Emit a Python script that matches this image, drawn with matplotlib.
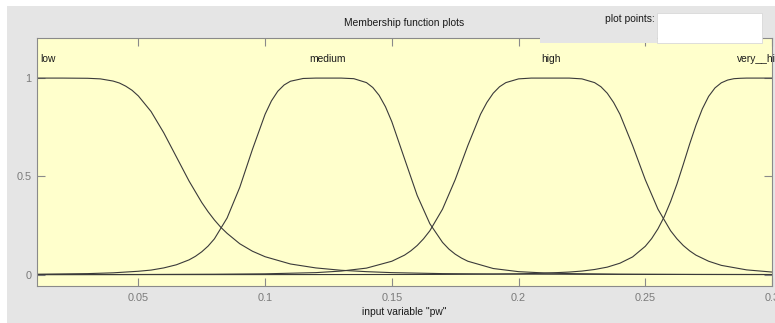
import matplotlib
matplotlib.use("Agg")
import matplotlib.pyplot as plt
from matplotlib.patches import Rectangle

plt.rcParams['font.family'] = ['Liberation Sans', 'DejaVu Sans']

# membership curves (input variable "pw")
low_x = [0.01, 0.02, 0.03, 0.035, 0.04, 0.0425, 0.045, 0.0475, 0.05, 0.055, 0.06, 0.065, 0.07, 0.075,
         0.0775, 0.08, 0.0825, 0.085, 0.09, 0.095, 0.10, 0.11, 0.12, 0.13, 0.14, 0.15, 0.17, 0.19,
         0.21, 0.23, 0.25, 0.27, 0.30]
low_y = [1.0, 1.0, 0.999, 0.996, 0.985, 0.975, 0.959, 0.938, 0.909, 0.830, 0.722, 0.599, 0.476, 0.367,
         0.320, 0.278, 0.241, 0.210, 0.157, 0.119, 0.091, 0.054, 0.034, 0.022, 0.015, 0.010, 0.005, 0.003,
         0.002, 0.0015, 0.001, 0.0008, 0.0005]

med_x = [0.01, 0.03, 0.04, 0.05, 0.055, 0.06, 0.065, 0.07, 0.0725, 0.075, 0.0775, 0.08, 0.085, 0.09,
         0.095, 0.10, 0.1025, 0.105, 0.1075, 0.11, 0.115, 0.12, 0.125, 0.13, 0.135, 0.14, 0.1425, 0.145,
         0.1475, 0.15, 0.155, 0.16, 0.165, 0.17, 0.1725, 0.175, 0.1775, 0.18, 0.19, 0.20, 0.21, 0.22,
         0.24, 0.27, 0.30]
med_y = [0.002, 0.005, 0.009, 0.017, 0.023, 0.034, 0.050, 0.075, 0.093, 0.116, 0.145, 0.182, 0.288, 0.444,
         0.637, 0.816, 0.884, 0.933, 0.965, 0.984, 0.998, 1.0, 1.0, 1.0, 0.997, 0.977, 0.952, 0.912,
         0.854, 0.778, 0.590, 0.403, 0.259, 0.164, 0.130, 0.104, 0.084, 0.068, 0.031, 0.015, 0.0085, 0.005,
         0.002, 0.0006, 0.0003]

high_x = [0.01, 0.05, 0.08, 0.10, 0.12, 0.13, 0.14, 0.15, 0.155, 0.1575, 0.16, 0.1625, 0.165, 0.17,
          0.175, 0.18, 0.185, 0.1875, 0.19, 0.1925, 0.195, 0.20, 0.205, 0.21, 0.215, 0.22, 0.225, 0.23,
          0.2325, 0.235, 0.2375, 0.24, 0.245, 0.25, 0.255, 0.26, 0.2625, 0.265, 0.2675, 0.27, 0.275, 0.28,
          0.29, 0.30]
high_y = [0.0002, 0.0006, 0.002, 0.004, 0.010, 0.018, 0.033, 0.068, 0.099, 0.121, 0.148, 0.182, 0.223, 0.333,
          0.483, 0.657, 0.816, 0.876, 0.923, 0.956, 0.977, 0.996, 1.0, 1.0, 1.0, 1.0, 0.996, 0.977,
          0.956, 0.923, 0.876, 0.816, 0.657, 0.483, 0.333, 0.223, 0.182, 0.148, 0.121, 0.099, 0.068, 0.047,
          0.024, 0.013]

vh_x = [0.01, 0.05, 0.10, 0.13, 0.15, 0.17, 0.19, 0.20, 0.21, 0.22, 0.225, 0.23, 0.235, 0.24, 0.245,
        0.25, 0.2525, 0.255, 0.2575, 0.26, 0.2625, 0.265, 0.2675, 0.27, 0.2725, 0.275, 0.2775, 0.28,
        0.2825, 0.285, 0.2875, 0.29, 0.295, 0.30]
vh_y = [0.0, 0.0, 0.0001, 0.0003, 0.0005, 0.001, 0.0024, 0.004, 0.007, 0.013, 0.018, 0.026, 0.038, 0.058, 0.090,
        0.144, 0.183, 0.233, 0.295, 0.372, 0.461, 0.561, 0.664, 0.760, 0.843, 0.907, 0.950, 0.976,
        0.990, 0.997, 0.999, 1.0, 1.0, 1.0]

mf_names = ['low', 'medium', 'high', 'very__high']
label_x = [0.0145, 0.1245, 0.2127, 0.2963]

xticks = [0.05, 0.1, 0.15, 0.2, 0.25, 0.3]
xtick_labels = ['0.05', '0.1', '0.15', '0.2', '0.25', '0.3']
yticks = [0, 0.5, 1]
ytick_labels = ['0', '0.5', '1']

W, H = 775, 323
panel = '#e5e5e5'
fs = 7.4
fig = plt.figure(figsize=(W / 100, H / 100), dpi=100, facecolor='white')
fig.add_artist(Rectangle((7 / W, 0), 1, 1 - 6 / H, transform=fig.transFigure,
                         facecolor=panel, edgecolor='none', zorder=-5))

ax = fig.add_axes([37 / W, 37 / H, 735 / W, 248 / H])
ax.set_facecolor('#ffffcc')
for s in ax.spines.values():
    s.set_color('#8a8a8a')
    s.set_linewidth(0.8)

lc = '#3a3a3a'
ax.plot(low_x, low_y, color=lc, lw=0.8)
ax.plot(med_x, med_y, color=lc, lw=0.8)
ax.plot(high_x, high_y, color=lc, lw=0.8)
ax.plot(vh_x, vh_y, color=lc, lw=0.8)

# the last label runs past the window edge, as in the screenshot
for name, lx in zip(mf_names, label_x):
    ax.text(lx, 1.097, name, ha='center', va='center', fontsize=fs, color='#1a1a1a', clip_on=False)

ax.set_xlim(0.01, 0.30)
ax.set_ylim(-0.058, 1.204)
ax.set_xticks(xticks)
ax.set_xticklabels(xtick_labels)
ax.set_yticks(yticks)
ax.set_yticklabels(ytick_labels)
ax.tick_params(direction='in', top=True, right=True, length=6, width=0.8, color='#8a8a8a',
               labelcolor='#7a7a7a', labelsize=fs + 0.4)
ax.tick_params(axis='x', pad=5)
ax.tick_params(axis='y', pad=4)
ax.set_xlabel('input variable "pw"', fontsize=fs, color='#1a1a1a', labelpad=3)

fig.text(404.5 / W, 1 - 23 / H, 'Membership function plots', ha='center', va='center',
         fontsize=fs, color='#1a1a1a')

# plot points control in the top right corner
fig.add_artist(Rectangle((540 / W, 1 - 43 / H), 117 / W, 30 / H, transform=fig.transFigure,
                         facecolor=panel, edgecolor='none', zorder=5))
fig.add_artist(Rectangle((657 / W, 1 - 43 / H), 105 / W, 30 / H, transform=fig.transFigure,
                         facecolor='white', edgecolor='#d8d8d8', lw=0.6, zorder=6))
fig.text(655 / W, 1 - 19 / H, 'plot points:', ha='right', va='center', fontsize=fs,
         color='#1a1a1a', zorder=7)

fig.savefig('out.png', dpi=100, facecolor=fig.get_facecolor())
